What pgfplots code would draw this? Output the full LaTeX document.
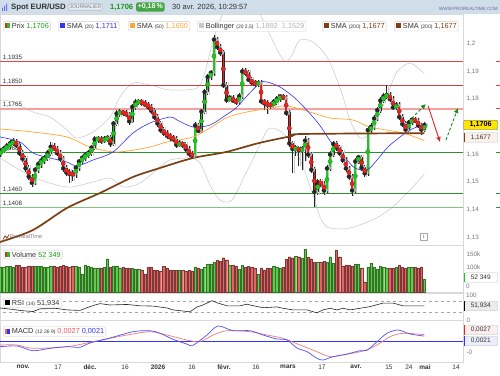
\documentclass[border=0pt]{standalone}
\usepackage{fontspec}
\setmainfont{Liberation Sans}
\usepackage{pgfplots}
\pgfplotsset{compat=1.18}
\usepackage{pgfplotstable}
\usetikzlibrary{arrows.meta}

\definecolor{cgreen}{RGB}{30,200,30}
\definecolor{cred}{RGB}{228,35,35}
\definecolor{vgreen}{RGB}{95,205,75}
\definecolor{vred}{RGB}{226,100,100}
\definecolor{sma20}{RGB}{50,50,245}
\definecolor{sma50}{RGB}{255,165,50}
\definecolor{sma200}{RGB}{125,62,18}
\definecolor{boll}{RGB}{200,200,200}
\definecolor{hdr}{RGB}{208,222,233}
\definecolor{lvlred}{RGB}{228,70,70}
\definecolor{lvlpink}{RGB}{242,160,160}
\definecolor{lvlgreen}{RGB}{45,145,45}
\definecolor{lvllgreen}{RGB}{130,195,130}
\definecolor{txtgray}{RGB}{120,120,120}
\definecolor{txtdark}{RGB}{50,50,50}
\definecolor{arrgreen}{RGB}{20,140,20}
\definecolor{badge}{RGB}{70,165,70}

\newcommand{\sq}[1]{\textcolor{#1}{\rule{5pt}{5pt}}}
\newcommand{\sqq}[2]{\textcolor{#1}{\rule{2.5pt}{5pt}}\textcolor{#2}{\rule{2.5pt}{5pt}}}
\newcommand{\sm}[1]{{\fontsize{5}{5}\selectfont #1}}

\pgfplotstableread{
i o h l c v
-7 1.1600 1.1622 1.1592 1.1612 100
-6 1.1612 1.1630 1.1604 1.1620 98
-5 1.1620 1.1641 1.1611 1.1630 103
-4 1.1630 1.1652 1.1620 1.1640 102
-3 1.1640 1.1660 1.1630 1.1646 100
-2 1.1646 1.1656 1.1624 1.1635 106
-1 1.1635 1.1644 1.1595 1.1605 106
0 1.1605 1.1615 1.1574 1.1585 100
1 1.1585 1.1596 1.1538 1.1550 98
2 1.1550 1.1561 1.1508 1.1520 104
3 1.1520 1.1530 1.1482 1.1498 102
4 1.1498 1.1556 1.1490 1.1545 104
5 1.1545 1.1578 1.1535 1.1565 103
6 1.1565 1.1590 1.1552 1.1578 101
7 1.1578 1.1600 1.1566 1.1588 97
8 1.1588 1.1616 1.1578 1.1605 98
9 1.1605 1.1645 1.1596 1.1628 102
10 1.1628 1.1640 1.1612 1.1622 104
11 1.1622 1.1632 1.1594 1.1605 100
12 1.1605 1.1615 1.1574 1.1585 103
13 1.1585 1.1596 1.1538 1.1550 105
14 1.1550 1.1562 1.1522 1.1535 101
15 1.1535 1.1548 1.1497 1.1530 100
16 1.1530 1.1545 1.1505 1.1528 103
17 1.1528 1.1562 1.1515 1.1552 101
18 1.1552 1.1585 1.1540 1.1575 100
19 1.1575 1.1600 1.1565 1.1588 72
20 1.1588 1.1609 1.1578 1.1598 108
21 1.1598 1.1616 1.1586 1.1606 103
22 1.1606 1.1636 1.1596 1.1625 98
23 1.1625 1.1668 1.1615 1.1655 96
24 1.1655 1.1668 1.1642 1.1656 94
25 1.1656 1.1666 1.1638 1.1650 96
26 1.1650 1.1667 1.1640 1.1655 100
27 1.1655 1.1672 1.1644 1.1660 132
28 1.1660 1.1670 1.1628 1.1640 100
29 1.1640 1.1722 1.1632 1.1712 104
30 1.1712 1.1760 1.1702 1.1748 102
31 1.1748 1.1764 1.1736 1.1752 96
32 1.1752 1.1762 1.1738 1.1750 98
33 1.1750 1.1760 1.1734 1.1745 95
34 1.1745 1.1755 1.1708 1.1720 96
35 1.1720 1.1783 1.1712 1.1772 94
36 1.1772 1.1800 1.1762 1.1788 90
37 1.1788 1.1802 1.1778 1.1790 92
38 1.1790 1.1800 1.1776 1.1786 88
39 1.1786 1.1796 1.1770 1.1780 72
40 1.1780 1.1790 1.1762 1.1772 98
41 1.1772 1.1782 1.1748 1.1758 100
42 1.1758 1.1768 1.1724 1.1735 86
43 1.1735 1.1745 1.1700 1.1712 85
44 1.1712 1.1722 1.1676 1.1688 84
45 1.1688 1.1698 1.1668 1.1678 102
46 1.1678 1.1688 1.1656 1.1668 96
47 1.1668 1.1678 1.1650 1.1662 88
48 1.1662 1.1672 1.1644 1.1655 86
49 1.1655 1.1665 1.1624 1.1635 85
50 1.1635 1.1652 1.1626 1.1640 86
51 1.1640 1.1650 1.1625 1.1635 86
52 1.1635 1.1645 1.1608 1.1620 84
53 1.1620 1.1630 1.1592 1.1603 85
54 1.1603 1.1612 1.1584 1.1595 84
55 1.1595 1.1716 1.1588 1.1705 100
56 1.1705 1.1715 1.1676 1.1685 96
57 1.1685 1.1766 1.1676 1.1755 92
58 1.1755 1.1838 1.1746 1.1826 98
59 1.1826 1.1892 1.1816 1.1880 110
60 1.1880 1.1906 1.1870 1.1895 112
61 1.1895 1.2030 1.1885 1.2015 118
62 1.2015 1.2024 1.1978 1.1988 126
63 1.1988 1.1998 1.1956 1.1968 122
64 1.1968 1.1978 1.1840 1.1850 136
65 1.1850 1.1860 1.1786 1.1797 128
66 1.1797 1.1816 1.1788 1.1805 106
67 1.1805 1.1815 1.1785 1.1795 106
68 1.1795 1.1805 1.1780 1.1790 104
69 1.1790 1.1822 1.1780 1.1810 92
70 1.1810 1.1912 1.1800 1.1900 106
71 1.1900 1.1912 1.1885 1.1895 100
72 1.1895 1.1905 1.1860 1.1870 102
73 1.1870 1.1880 1.1850 1.1860 100
74 1.1860 1.1870 1.1845 1.1855 96
75 1.1855 1.1868 1.1845 1.1858 72
76 1.1858 1.1868 1.1782 1.1792 96
77 1.1792 1.1802 1.1760 1.1785 88
78 1.1785 1.1795 1.1748 1.1780 96
79 1.1780 1.1790 1.1766 1.1778 95
80 1.1778 1.1800 1.1768 1.1790 104
81 1.1790 1.1810 1.1780 1.1800 97
82 1.1800 1.1820 1.1790 1.1810 96
83 1.1810 1.1820 1.1795 1.1805 97
84 1.1805 1.1815 1.1740 1.1750 130
85 1.1750 1.1760 1.1628 1.1640 140
86 1.1640 1.1650 1.1535 1.1620 136
87 1.1620 1.1634 1.1595 1.1622 142
88 1.1622 1.1632 1.1560 1.1615 140
89 1.1615 1.1630 1.1545 1.1620 135
90 1.1620 1.1665 1.1575 1.1650 170
91 1.1650 1.1660 1.1588 1.1600 138
92 1.1600 1.1610 1.1532 1.1545 132
93 1.1545 1.1556 1.1410 1.1465 118
94 1.1465 1.1512 1.1455 1.1500 118
95 1.1500 1.1510 1.1484 1.1495 118
96 1.1495 1.1505 1.1455 1.1470 122
97 1.1470 1.1562 1.1460 1.1550 118
98 1.1550 1.1612 1.1540 1.1600 140
99 1.1600 1.1650 1.1590 1.1638 115
100 1.1638 1.1648 1.1612 1.1625 165
101 1.1625 1.1636 1.1594 1.1605 140
102 1.1605 1.1615 1.1568 1.1580 104
103 1.1580 1.1590 1.1538 1.1550 108
104 1.1550 1.1560 1.1508 1.1520 106
105 1.1520 1.1530 1.1450 1.1470 104
106 1.1470 1.1586 1.1460 1.1575 112
107 1.1575 1.1600 1.1565 1.1590 110
108 1.1590 1.1600 1.1540 1.1552 96
109 1.1552 1.1562 1.1520 1.1532 40
110 1.1532 1.1698 1.1522 1.1688 98
111 1.1688 1.1712 1.1676 1.1700 114
112 1.1700 1.1742 1.1690 1.1730 98
113 1.1730 1.1772 1.1720 1.1760 90
114 1.1760 1.1806 1.1750 1.1795 103
115 1.1795 1.1822 1.1785 1.1810 97
116 1.1810 1.1852 1.1800 1.1815 96
117 1.1815 1.1825 1.1790 1.1800 95
118 1.1800 1.1810 1.1760 1.1770 96
119 1.1770 1.1788 1.1760 1.1778 98
120 1.1778 1.1788 1.1725 1.1735 106
121 1.1735 1.1745 1.1700 1.1710 97
122 1.1710 1.1720 1.1680 1.1690 95
123 1.1690 1.1726 1.1680 1.1715 98
124 1.1715 1.1735 1.1705 1.1725 97
125 1.1725 1.1735 1.1712 1.1722 97
126 1.1722 1.1732 1.1695 1.1705 96
127 1.1705 1.1715 1.1672 1.1690 100
128 1.1690 1.1718 1.1682 1.1706 52.349
}\ohlc

\pgfplotstableread{
i p
-7.13 1.16632
-0.76 1.16451
3.38 1.16054
8.79 1.15874
14.20 1.15729
17.39 1.15585
22.48 1.15801
28.85 1.16090
35.22 1.16776
40.64 1.17137
47.01 1.17354
49.24 1.17245
54.33 1.16993
59.75 1.17065
64.84 1.17426
68.03 1.17679
71.21 1.18076
75.67 1.18581
77.90 1.18617
82.04 1.18437
87.45 1.17968
94.14 1.17137
98.92 1.16343
103.38 1.15801
105.92 1.15513
109.75 1.15440
112.93 1.15801
116.43 1.16271
120.25 1.16632
123.44 1.16884
128 1.1711
}\smaA

\pgfplotstableread{
i p
-7.13 1.16921
3.38 1.16812
14.20 1.16632
21.53 1.16271
30.13 1.16090
40.64 1.16271
45.41 1.16433
54.33 1.16632
59.75 1.16957
64.84 1.17318
69.96 1.17498
78.85 1.17679
84.27 1.17751
91.59 1.17534
97.96 1.17318
105.29 1.17245
110.70 1.16993
121.21 1.16776
128 1.1650
}\smaB

\pgfplotstableread{
i p
-7.13 1.12841
3.38 1.13274
14.20 1.14069
24.71 1.14610
35.22 1.15188
43.82 1.15513
54.33 1.15874
64.84 1.16090
75.35 1.16415
85.86 1.16668
89.05 1.16740
128 1.1677
}\smaC

\pgfplotstableread{
i p
-7.13 1.17967
-2.99 1.17895
3.38 1.17534
8.79 1.17354
14.20 1.16884
17.39 1.16596
22.48 1.16812
27.90 1.17354
31.08 1.18076
35.22 1.18581
40.64 1.18509
47.01 1.18329
55.61 1.18401
58.15 1.18978
60.38 1.19953
62.93 1.20856
66.75 1.21578
72.48 1.21758
76.31 1.20928
78.85 1.20314
82.04 1.19592
83.95 1.19339
85.86 1.19592
88.41 1.20134
92.55 1.20061
97.01 1.19520
100.19 1.18690
102.10 1.18076
104.33 1.17246
107.52 1.16596
110.70 1.16776
113.89 1.17498
117.07 1.18401
119.30 1.18978
123.44 1.19303
128 1.1892
}\bollU

\pgfplotstableread{
i p
-7.13 1.15874
3.38 1.15188
14.20 1.14827
22.48 1.15007
27.90 1.15152
32.04 1.14827
37.45 1.14971
43.82 1.15549
47.01 1.15801
53.38 1.15874
56.56 1.15693
59.75 1.14899
62.93 1.14357
66.75 1.14357
70.89 1.15260
74.08 1.15982
76.31 1.16523
78.85 1.16957
83.63 1.16704
88.41 1.15801
92.55 1.14538
94.78 1.13744
97.01 1.13383
101.15 1.13310
104.33 1.13347
109.11 1.13527
113.89 1.13780
118.66 1.14177
123.44 1.14718
128 1.1529
}\bollL

\pgfplotstableread{
i r
-7.13 44
-3.95 40
-0.76 35
3.38 31
5.61 41
11.02 42
14.20 37
18.34 35
20.57 45
23.12 55
24.71 60
27.90 55
33.31 57
37.45 52
41.59 51
46.05 44
47.96 37
53.38 30
55.61 48
57.52 55
60.38 71
61.97 63
65.16 52
69.30 52
71.53 58
72.48 55
76.62 45
81.08 48
82.99 43
86.18 37
90.64 37
93.82 26
95.73 37
97.96 43
100.19 37
102.10 43
104.33 37
107.52 43
110.70 49
114.84 62
118.03 62
121.21 52
124.39 52
128 51.934
}\rsi

\pgfplotstableread{
i m
-7.13 -0.00244
-1.72 -0.00214
3.38 -0.00415
8.79 -0.00312
14.20 -0.00244
18.34 -0.00269
21.53 -0.00085
27.90 0.00128
35.22 0.00397
40.64 0.00440
43.82 0.00329
47.96 0.00073
52.32 -0.00128
54.33 -0.00184
58.79 0.00256
62.29 0.00641
67.07 0.00440
72.48 0.00440
76.62 0.00256
81.08 0.00085
84.27 0.00043
87.45 -0.00299
90.64 -0.00457
93.82 -0.00739
95.73 -0.00812
98.92 -0.00671
103.38 -0.00556
107.52 -0.00415
109.75 -0.00397
112.93 -0.00030
116.11 0.00329
119.62 0.00470
123.44 0.00299
128 0.0021
}\macd

\pgfplotstableread{
i m
-7.13 -0.00171
-1.72 -0.00171
3.38 -0.00312
14.20 -0.00244
22.48 -0.00030
33.31 0.00256
40.64 0.00397
46.05 0.00256
52.32 0.00043
56.56 -0.00030
60.70 0.00256
65.16 0.00440
72.48 0.00397
77.90 0.00256
83.00 0.00115
88.41 -0.00171
93.82 -0.00457
97.96 -0.00671
102.10 -0.00598
108.47 -0.00427
112.93 -0.00171
117.07 0.00184
121.21 0.00329
128 0.0027
}\signal

\pgfplotsset{panel/.style={scale only axis, width=463pt, xmin=-7.134, xmax=140.32,
  axis line style={draw=gray!30}, xtick=\empty, tick style={draw=none},
  scaled y ticks=false, yticklabel pos=right,
  yticklabel style={font=\fontsize{6.3}{7}\selectfont, text=txtgray, anchor=west, xshift=0pt}}}

\tikzset{legbox/.style={draw=gray!40, fill=white, rounded corners=1.5pt, inner sep=1.7pt, anchor=west, font=\fontsize{7.3}{8}\selectfont, text=txtdark},
 vbox/.style={draw=gray!50, fill=white, rounded corners=1pt, inner sep=1.2pt, anchor=west, font=\fontsize{6.5}{7}\selectfont, minimum width=34pt, minimum height=9.5pt}}

\begin{document}
\begin{tikzpicture}[x=1pt,y=1pt]
\useasboundingbox (0pt,0pt) rectangle (500pt,375pt);
\fill[white] (0pt,0pt) rectangle (500pt,375pt);

% ---------------- price panel
\begin{axis}[panel, at={(0pt,130pt)}, anchor=south west, height=231pt,
  ymin=1.12733, ymax=1.21072,
  ytick={1.13,1.14,1.15,1.16,1.18,1.19,1.2},
  yticklabels={{1,13},{1,14},{1,15},{1,16},{1,18},{1,19},{1,2}}]
\addplot[boll, line width=0.5pt, smooth] table[x=i,y=p]{\bollU};
\addplot[boll, line width=0.5pt, smooth] table[x=i,y=p]{\bollL};
\addplot[lvlred, line width=0.7pt] coordinates {(-8,1.1935) (142,1.1935)};
\addplot[lvlred!90!black, line width=0.8pt] coordinates {(-8,1.1850) (142,1.1850)};
\addplot[lvlpink, line width=1.6pt] coordinates {(-8,1.1765) (142,1.1765)};
\addplot[lvlgreen, line width=1.3pt] coordinates {(-8,1.1608) (142,1.1608)};
\addplot[lvlgreen, line width=1.3pt] coordinates {(-8,1.1460) (142,1.1460)};
\addplot[lvllgreen, line width=0.8pt] coordinates {(-8,1.1408) (142,1.1408)};
\begin{scope}[every node/.style={anchor=south west, inner sep=1pt, font=\fontsize{6.3}{7}\selectfont, text=txtdark}]
\node at (axis cs:-6.6,1.1935) {1,1935};
\node at (axis cs:-6.6,1.1850) {1,1850};
\node at (axis cs:-6.6,1.1765) {1,1765};
\node at (axis cs:-6.6,1.1608) {1,1608};
\node at (axis cs:-6.6,1.1460) {1,1460};
\node at (axis cs:-6.6,1.1408) {1,1408};
\end{scope}
% shadow
\addplot[only marks, mark=none, color=gray!45,
  error bars/.cd, y dir=both, y explicit, error mark=none, error bar style={line width=1pt}]
  table[x expr=\thisrow{i}+0.5, y=c, y error plus expr=\thisrow{h}-\thisrow{c}, y error minus expr=\thisrow{c}-\thisrow{l}]{\ohlc};
% wicks
\addplot[only marks, mark=none, color=black!85,
  error bars/.cd, y dir=both, y explicit, error mark=none, error bar style={line width=0.5pt}]
  table[x=i, y=c, y error plus expr=\thisrow{h}-\thisrow{c}, y error minus expr=\thisrow{c}-\thisrow{l}]{\ohlc};
% body outlines
\addplot[only marks, mark=none, color=black!85,
  error bars/.cd, y dir=both, y explicit, error mark=none, error bar style={line width=2.5pt}]
  table[x=i, y expr={(\thisrow{o}+\thisrow{c})/2}, y error expr={abs(\thisrow{c}-\thisrow{o})/2+0.00018}]{\ohlc};
% up bodies
\addplot[only marks, mark=none, color=cgreen, restrict expr to domain={\thisrow{c}-\thisrow{o}}{0:1},
  error bars/.cd, y dir=both, y explicit, error mark=none, error bar style={line width=1.6pt}]
  table[x=i, y expr={(\thisrow{o}+\thisrow{c})/2}, y error expr={abs(\thisrow{c}-\thisrow{o})/2}]{\ohlc};
% down bodies
\addplot[only marks, mark=none, color=cred, restrict expr to domain={\thisrow{c}-\thisrow{o}}{-1:0},
  error bars/.cd, y dir=both, y explicit, error mark=none, error bar style={line width=1.6pt}]
  table[x=i, y expr={(\thisrow{o}+\thisrow{c})/2}, y error expr={abs(\thisrow{c}-\thisrow{o})/2}]{\ohlc};
% moving averages
\addplot[sma50, line width=0.7pt, smooth] table[x=i,y=p]{\smaB};
\addplot[sma20, line width=0.6pt, smooth] table[x=i,y=p]{\smaA};
\addplot[sma200, line width=1.7pt, smooth] table[x=i,y=p]{\smaC};
% arrows
\addplot[arrgreen, line width=0.9pt, densely dashed, -{Latex[length=5pt,width=5pt]}] coordinates {(122.8,1.17173) (128.5,1.17823)};
\addplot[cred, line width=0.9pt, -{Latex[length=5pt,width=5pt]}] coordinates {(129.2,1.17751) (133.0,1.16451)};
\addplot[arrgreen, line width=0.9pt, densely dashed, -{Latex[length=5pt,width=5pt]}] coordinates {(134.9,1.16524) (138.7,1.17679)};
\end{axis}

% ---------------- volume panel
\begin{axis}[panel, at={(0pt,83pt)}, anchor=south west, height=47pt,
  ymin=0, ymax=186.5, ytick={100,150}, yticklabels={100k,150k}]
\addplot[ybar, bar width=2.3pt, bar shift=0pt, fill=vgreen, draw=vgreen!55!black, line width=0.3pt,
  restrict expr to domain={\thisrow{c}-\thisrow{o}}{0:1}] table[x=i,y=v]{\ohlc};
\addplot[ybar, bar width=2.3pt, bar shift=0pt, fill=vred, draw=vred!55!black, line width=0.3pt,
  restrict expr to domain={\thisrow{c}-\thisrow{o}}{-1:0}] table[x=i,y=v]{\ohlc};
\end{axis}

% ---------------- RSI panel
\begin{axis}[panel, at={(0pt,55pt)}, anchor=south west, height=27.3pt,
  ymin=0, ymax=100, ytick={0}, yticklabels={0}]
\addplot[gray!70, dashed, line width=0.5pt] coordinates {(-8,70) (142,70)};
\addplot[gray!70, dashed, line width=0.5pt] coordinates {(-8,30) (142,30)};
\addplot[black!85, line width=0.6pt] table[x=i,y=r]{\rsi};
\end{axis}
% volume 0 and RSI 100 labels, kept apart
\node[anchor=base west, inner sep=0pt, font=\fontsize{6.3}{7}\selectfont, text=txtgray] at (466pt,86.3pt) {0};
\node[anchor=base west, inner sep=0pt, font=\fontsize{6.3}{7}\selectfont, text=txtgray] at (466pt,77.6pt) {100};

% ---------------- MACD panel
\begin{axis}[panel, at={(0pt,13pt)}, anchor=south west, height=42pt,
  ymin=-0.008974, ymax=0.008974, ytick={-0.005}, yticklabels={-0,005},
  xtick={0.19,11.34,21.53,32.68,43.18,54.01,64.2,74.39,84.59,95.41,106.24,116.75,123.12,128.22,138.09},
  xticklabels={\textbf{nov.},17,\textbf{déc.},16,\textbf{2026},16,\textbf{févr.},16,\textbf{mars},17,\textbf{avr.},15,24,\textbf{mai},14},
  xticklabel style={font=\fontsize{6.5}{7}\selectfont, text=txtdark, yshift=1pt}]
\addplot[sma20, line width=0.8pt] coordinates {(-8,0) (142,0)};
\addplot[cred!60, line width=0.7pt, smooth] table[x=i,y=m]{\signal};
\addplot[sma20!85, line width=0.7pt, smooth] table[x=i,y=m]{\macd};
\end{axis}

% ---------------- header
\fill[hdr] (0pt,361pt) rectangle (500pt,375pt);
\fill[sma20!70] (2pt,364pt) rectangle (3pt,367pt) (4pt,364pt) rectangle (5pt,369pt) (6pt,364pt) rectangle (7pt,371pt);
\node[anchor=west, inner sep=0pt, font=\bfseries\fontsize{7.8}{8}\selectfont, text=txtdark] at (11pt,368pt) {Spot EUR/USD};
\node[anchor=west, draw=gray!70, fill=hdr!50, rounded corners=1.5pt, inner sep=1.3pt, font=\fontsize{5}{5.5}\selectfont, text=txtgray] at (68pt,368pt) {JOURNALIER};
\node[anchor=west, inner sep=0pt, font=\bfseries\fontsize{7.5}{8}\selectfont, text=cgreen!75!black] at (110pt,368pt) {1,1706};
\node[anchor=west, fill=badge, rounded corners=1.5pt, inner sep=1.6pt, font=\bfseries\fontsize{7}{8}\selectfont, text=white] at (136pt,368pt) {+0,18\,\%};
\node[anchor=west, inner sep=0pt, font=\fontsize{7.5}{8}\selectfont, text=txtdark] at (172pt,368pt) {30 avr. 2026, 10:29:57};
\node[anchor=east, inner sep=0pt, font=\fontsize{4.6}{5}\selectfont, text=black!60!blue!60] at (498pt,366.5pt) {WWW.PROREALTIME.COM};

% ---------------- legend row
\node[legbox] at (3pt,348.8pt) {\sqq{cred}{cgreen} Prix \textcolor{cgreen!80!black}{1,1706}};
\node[legbox] at (58pt,348.8pt) {\sq{sma20} SMA \sm{(20)} \textcolor{sma20}{1,1711}};
\node[legbox] at (128pt,348.8pt) {\sq{sma50} SMA \sm{(50)} \textcolor{sma50}{1,1650}};
\node[legbox] at (197pt,348.8pt) {\sq{boll} Bollinger \sm{(20 2,5)} \textcolor{boll!90!black}{1,1892\ \ 1,1529}};
\node[legbox] at (322pt,348.8pt) {\sq{sma200} SMA \sm{(200)} \textcolor{sma200}{1,1677}};
\node[legbox] at (394pt,348.8pt) {\sq{sma200} SMA \sm{(200)} \textcolor{sma200}{1,1677}};

% ---------------- panel labels
\node[legbox] at (3pt,120.5pt) {\sqq{cred}{cgreen} Volume \textcolor{cgreen!80!black}{52 349}};
\node[legbox] at (3pt,72pt) {\sq{black} RSI \sm{(14)} 51,934};
\node[legbox] at (3pt,43.5pt) {\sqq{cred!70}{sma20} MACD \sm{(12 26 9)} \textcolor{cred!75}{0,0027} \textcolor{sma20}{0,0021}};

% watermark and info
\node[anchor=west, inner sep=0pt, font=\fontsize{5.5}{6}\selectfont, text=txtgray] at (10pt,138pt) {ProRealTime};
\draw[sma200, line width=0.8pt] (3pt,135.5pt) -- (5pt,139pt) -- (7pt,137pt) -- (9pt,140.5pt);
\node[draw=gray!70, inner sep=0.8pt, font=\fontsize{5}{5}\selectfont, text=txtdark, minimum size=7pt] at (424pt,138pt) {i};

% ---------------- right value boxes
\node[vbox, fill={rgb,255:red,255;green,228;blue,0}, draw=black!60, font=\bfseries\fontsize{7.2}{8}\selectfont] at (463.5pt,250pt) {1,1706};
\node[vbox, fill={rgb,255:red,250;green,242;blue,234}, text=txtdark] at (463.5pt,237.5pt) {1,1677};
\fill[sma200] (463.5pt,232.8pt) rectangle (465pt,242.2pt);
\node[vbox, text=txtdark] at (463.5pt,97.5pt) {52 349};
\fill[cgreen] (463.5pt,92.8pt) rectangle (465pt,102.2pt);
\node[vbox, fill=gray!15, text=txtdark] at (463.5pt,69pt) {51,934};
\fill[black] (463.5pt,64.3pt) rectangle (465pt,73.7pt);
\node[vbox, fill={rgb,255:red,252;green,238;blue,238}, text=txtdark] at (463.5pt,45pt) {0,0027};
\fill[cred] (463.5pt,40.3pt) rectangle (465pt,49.7pt);
\node[vbox, fill={rgb,255:red,235;green,238;blue,252}, text=txtdark] at (463.5pt,34pt) {0,0021};
\fill[sma20] (463.5pt,29.3pt) rectangle (465pt,38.7pt);

% right-edge level marks
\draw[lvlred, line width=0.8pt] (496pt,313.3pt) -- (500pt,313.3pt) (496pt,289.8pt) -- (500pt,289.8pt) (496pt,266.2pt) -- (500pt,266.2pt);
\draw[lvlgreen, line width=0.8pt] (496pt,222.7pt) -- (500pt,222.7pt) (496pt,181.7pt) -- (500pt,181.7pt) (496pt,167.3pt) -- (500pt,167.3pt);
\end{tikzpicture}
\end{document}
